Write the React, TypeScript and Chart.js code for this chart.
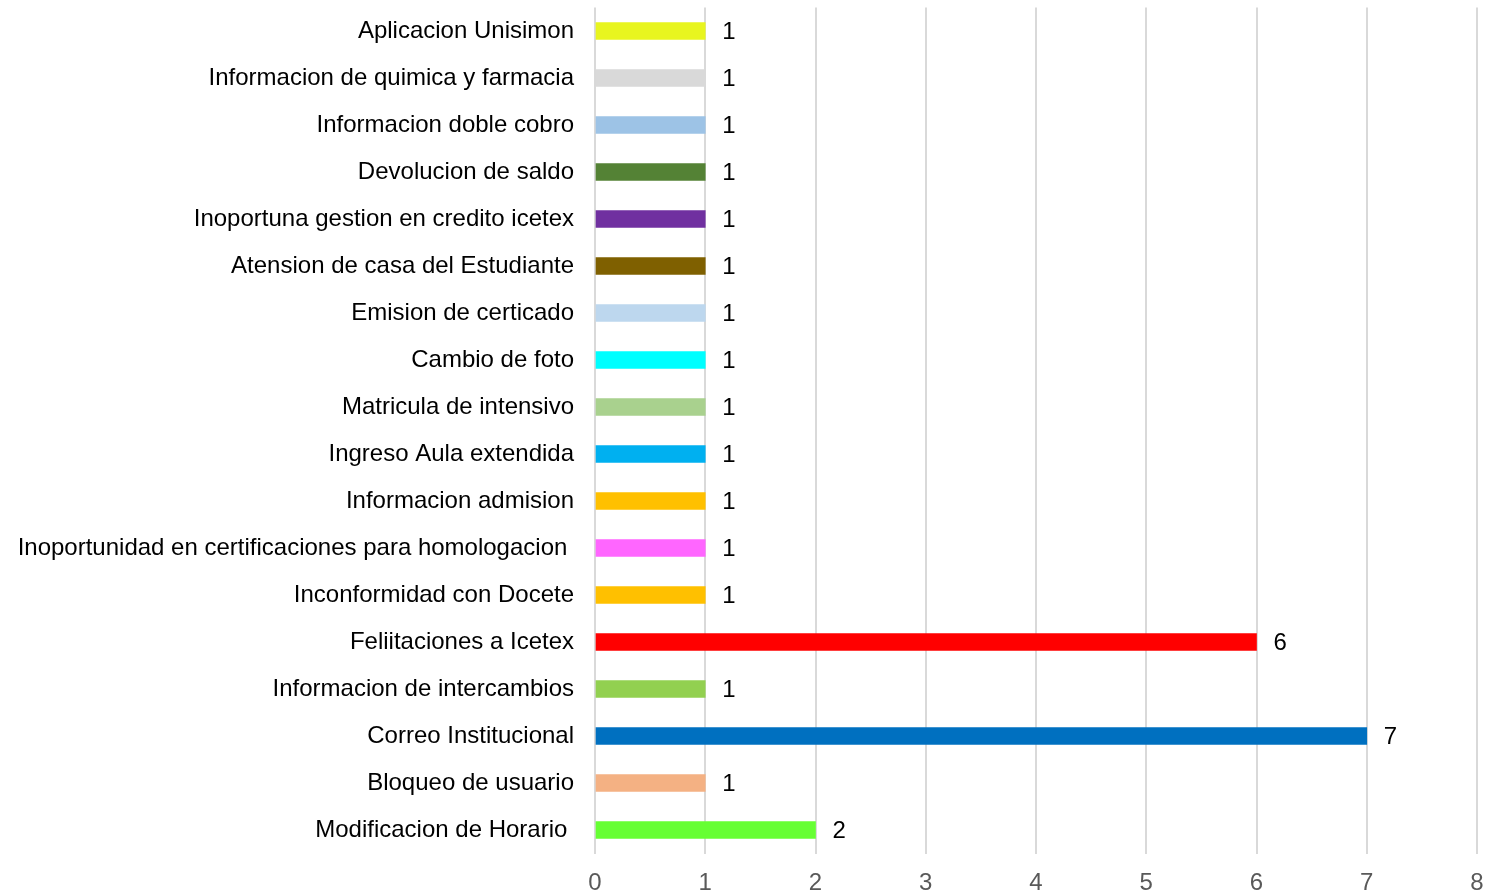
import React, { useEffect, useRef } from "react";
import { Chart, registerables } from "chart.js";

Chart.register(...registerables);

const categories = [
  "Aplicacion Unisimon",
  "Informacion de quimica y farmacia",
  "Informacion doble cobro",
  "Devolucion de saldo",
  "Inoportuna gestion en credito icetex",
  "Atension de casa del Estudiante",
  "Emision de certicado",
  "Cambio de foto",
  "Matricula de intensivo",
  "Ingreso Aula extendida",
  "Informacion admision",
  "Inoportunidad en certificaciones para homologacion ",
  "Inconformidad con Docete",
  "Feliitaciones a Icetex",
  "Informacion de intercambios",
  "Correo Institucional",
  "Bloqueo de usuario",
  "Modificacion de Horario ",
];

const values = [1, 1, 1, 1, 1, 1, 1, 1, 1, 1, 1, 1, 1, 6, 1, 7, 1, 2];

const barColors = [
  "#e8f51f",
  "#d9d9d9",
  "#9dc3e6",
  "#548235",
  "#7030a0",
  "#7f6000",
  "#bdd7ee",
  "#00ffff",
  "#a9d18e",
  "#00b0f0",
  "#ffc000",
  "#ff66ff",
  "#ffc000",
  "#ff0000",
  "#92d050",
  "#0070c0",
  "#f4b183",
  "#66ff33",
];

const xTicks = [0, 1, 2, 3, 4, 5, 6, 7, 8];

const FONT = "'Liberation Sans', Arial, sans-serif";

const valueLabels = {
  id: "valueLabels",
  afterDatasetsDraw(chart: any) {
    const ctx = chart.ctx;
    const meta = chart.getDatasetMeta(0);
    ctx.save();
    ctx.font = `24px ${FONT}`;
    ctx.fillStyle = "#000000";
    ctx.textAlign = "left";
    ctx.textBaseline = "middle";
    meta.data.forEach((bar: any, i: number) => {
      ctx.fillText(String(values[i]), bar.x + 17, bar.y + 1);
    });
    ctx.restore();
  },
};

export default function App() {
  const ref = useRef<HTMLCanvasElement | null>(null);
  useEffect(() => {
    document.body.style.margin = "0";
    if (!ref.current) return;
    const chart = new Chart(ref.current, {
      type: "bar",
      data: {
        labels: categories,
        datasets: [
          {
            data: values,
            backgroundColor: barColors,
            barThickness: 17,
          },
        ],
      },
      options: {
        indexAxis: "y",
        animation: false,
        responsive: false,
        maintainAspectRatio: false,
        layout: { padding: { top: 7.5, right: 14, bottom: 0, left: 0 } },
        plugins: {
          legend: { display: false },
          tooltip: { enabled: false },
        },
        scales: {
          x: {
            min: 0,
            max: 8,
            afterBuildTicks(scale: any) {
              scale.ticks = xTicks.map((v) => ({ value: v }));
            },
            afterFit(scale: any) {
              scale.height = 39.5;
              scale.paddingLeft = 0;
              scale.paddingRight = 0;
              scale.paddingTop = 0;
              scale.paddingBottom = 0;
            },
            grid: { color: "#d9d9d9", lineWidth: 2, drawTicks: false },
            border: { display: false },
            ticks: {
              padding: 15,
              color: "#595959",
              font: { family: FONT, size: 24 },
            },
          },
          y: {
            afterFit(scale: any) {
              scale.width = 595;
              scale.paddingLeft = 0;
              scale.paddingRight = 0;
              scale.paddingTop = 0;
              scale.paddingBottom = 0;
            },
            grid: { display: false, drawTicks: false },
            border: { display: false },
            ticks: {
              padding: 21,
              color: "#000000",
              autoSkip: false,
              font: { family: FONT, size: 24 },
            },
          },
        },
      },
      plugins: [valueLabels],
    });
    return () => chart.destroy();
  }, []);
  return (
    <div style={{ position: "absolute", left: 0, top: 0, width: 1491, height: 893 }}>
      <canvas ref={ref} width={1491} height={893} style={{ width: 1491, height: 893 }} />
    </div>
  );
}
